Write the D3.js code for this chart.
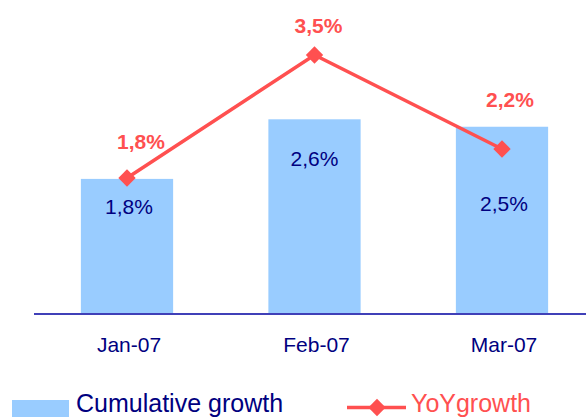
<!DOCTYPE html>
<html>
<head>
<meta charset="utf-8">
<script src="https://cdn.jsdelivr.net/npm/d3@7"></script>
<style>
  body { margin: 0; background: #fff; }
  text { font-family: "Liberation Sans", Arial, sans-serif; }
</style>
</head>
<body>
<svg id="chart" width="586" height="419"></svg>
<script>
const months     = ["Jan-07", "Feb-07", "Mar-07"]
const cumulative = [1.8, 2.6, 2.5]
const yoy        = [1.8, 3.5, 2.2]
const legendNames = ["Cumulative growth", "YoYgrowth"]

const fmt = v => d3.format(".1f")(v).replace(".", ",") + "%"

const svg = d3.select("#chart")
const baseY = 313

const x = d3.scaleBand()
    .domain(months)
    .range([34, 595])
    .paddingInner(0.508)
    .paddingOuter(0.25)

// bars and line sit on two separate (hidden) value axes
const yBar = d3.scaleLinear().domain([0, 1]).range([baseY, baseY - 74.5])
const yLine = d3.scaleLinear().domain([0, 1]).range([308.2, 308.2 - 72.35])

const cx = d => x(d) + x.bandwidth() / 2

svg.selectAll("rect.bar")
  .data(months)
  .enter().append("rect")
    .attr("class", "bar")
    .attr("x", d => x(d))
    .attr("width", x.bandwidth())
    .attr("y", (d, i) => yBar(cumulative[i]))
    .attr("height", (d, i) => baseY - yBar(cumulative[i]))
    .attr("fill", "#99ccff")

svg.append("line")
  .attr("x1", 34).attr("x2", 586)
  .attr("y1", baseY + 1).attr("y2", baseY + 1)
  .attr("stroke", "#4040b8")
  .attr("stroke-width", 2)

svg.append("g")
  .attr("transform", `translate(0,${baseY})`)
  .call(d3.axisBottom(x).tickSize(0).tickPadding(0))
  .call(g => g.select(".domain").remove())
  .call(g => g.selectAll("text")
      .attr("dy", null)
      .attr("y", 39)
      .attr("dx", 2)
      .attr("font-size", "21px")
      .attr("fill", "#000080")
      .style("font-family", "Liberation Sans, Arial, sans-serif"))

// bar value labels
const barDx = [2, 0, 2]
const barDy = [35, 47, 84]
svg.selectAll("text.barlab")
  .data(months)
  .enter().append("text")
    .attr("x", (d, i) => cx(d) + barDx[i])
    .attr("y", (d, i) => yBar(cumulative[i]) + barDy[i])
    .attr("text-anchor", "middle")
    .attr("font-size", "21px")
    .attr("fill", "#000080")
    .text((d, i) => fmt(cumulative[i]))

const lineGen = d3.line()
  .x(d => cx(d.m))
  .y(d => yLine(d.v))

const pts = months.map((m, i) => ({ m: m, v: yoy[i] }))

svg.append("path")
  .datum(pts)
  .attr("fill", "none")
  .attr("stroke", "#ff5050")
  .attr("stroke-width", 3.5)
  .attr("d", lineGen)

const diamond = d3.symbol().type(d3.symbolSquare).size(150)
svg.selectAll("path.mark")
  .data(pts)
  .enter().append("path")
    .attr("d", diamond)
    .attr("transform", d => `translate(${cx(d.m)},${yLine(d.v)}) rotate(45)`)
    .attr("fill", "#ff5050")

const lineDx = [14, 4, 8]
const lineDy = [-29, -22, -42]
svg.selectAll("text.linelab")
  .data(pts)
  .enter().append("text")
    .attr("x", (d, i) => cx(d.m) + lineDx[i])
    .attr("y", (d, i) => yLine(d.v) + lineDy[i])
    .attr("text-anchor", "middle")
    .attr("font-size", "21px")
    .attr("font-weight", "bold")
    .attr("fill", "#ff5050")
    .text(d => fmt(d.v))

// legend
svg.append("rect")
  .attr("x", 12).attr("y", 400)
  .attr("width", 57).attr("height", 17)
  .attr("fill", "#99ccff")
svg.append("text")
  .attr("x", 76).attr("y", 412)
  .attr("font-size", "25px")
  .attr("fill", "#000080")
  .text(legendNames[0])

svg.append("line")
  .attr("x1", 347).attr("x2", 406)
  .attr("y1", 407.5).attr("y2", 407.5)
  .attr("stroke", "#ff5050")
  .attr("stroke-width", 3.5)
svg.append("path")
  .attr("d", diamond)
  .attr("transform", "translate(377,407.5) rotate(45)")
  .attr("fill", "#ff5050")
svg.append("text")
  .attr("x", 411).attr("y", 412)
  .attr("font-size", "25px")
  .attr("fill", "#ff5050")
  .text(legendNames[1])
</script>
</body>
</html>
